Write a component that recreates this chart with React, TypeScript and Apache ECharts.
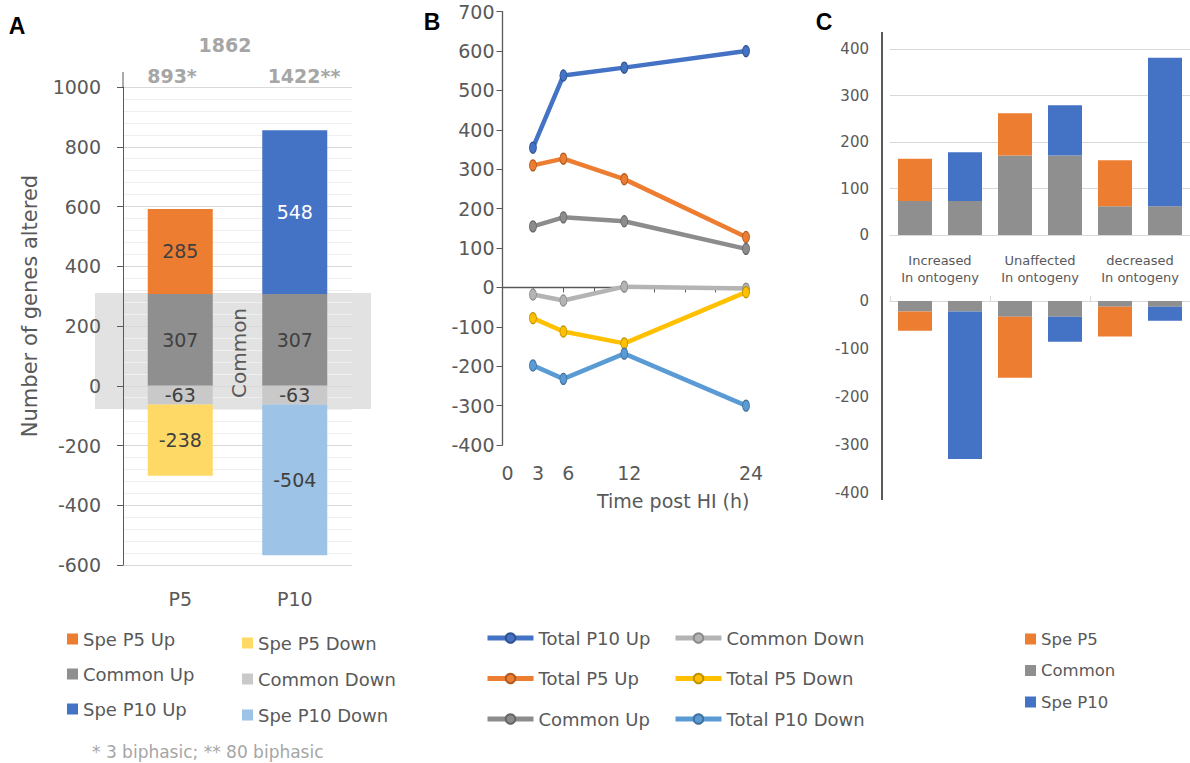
import React, { useEffect, useRef } from "react";
import * as echarts from "echarts";

const FONT = "DejaVu Sans";
const GRAY = "#595959";

// ---------- Panel A ----------
const aCategories = ["P5", "P10"];
const aCommonUp = [307, 307];
const aCommonDown = [-63, -63];
const aSpeP5Up = [285, null];
const aSpeP5Down = [-238, null];
const aSpeP10Up = [null, 548];
const aSpeP10Down = [null, -504];
const aBiphasic = [3, 80];

// ---------- Panel B ----------
const bHours = [3, 6, 12, 24];
const bXLabels = [0, 3, 6, 12, 24];
const bTotalP10Up = [355, 538, 558, 600];
const bTotalP5Up = [310, 327, 275, 128];
const bCommonUp = [155, 178, 168, 98];
const bCommonDown = [-18, -33, 2, -3];
const bTotalP5Down = [-78, -112, -142, -12];
const bTotalP10Down = [-198, -232, -168, -300];

// ---------- Panel C ----------
const cGroups = ["Increased\nIn ontogeny", "Unaffected\nIn ontogeny", "decreased\nIn ontogeny"];
const cBars = ["Inc P5", "Inc P10", "Unaff P5", "Unaff P10", "Dec P5", "Dec P10"];
const cUpCommon = [73, 73, 171, 171, 62, 62];
const cUpSpeP5 = [91, null, 91, null, 99, null];
const cUpSpeP10 = [null, 105, null, 108, null, 319];
const cDownCommon = [-22, -22, -33, -33, -12, -12];
const cDownSpeP5 = [-40, null, -127, null, -62, null];
const cDownSpeP10 = [null, -307, null, -52, null, -29];

const dash = (arr: (number | null)[]) => arr.map((v) => (v == null ? "-" : v));
const abs0 = (v: number | null) => (v == null ? 0 : Math.abs(v));
const totalA = (i: number) =>
  abs0(aCommonUp[i]) + abs0(aCommonDown[i]) + abs0(aSpeP5Up[i]) + abs0(aSpeP5Down[i]) + abs0(aSpeP10Up[i]) + abs0(aSpeP10Down[i]);
const totP5 = totalA(0);
const totP10 = totalA(1);
const totUnion = totP5 + totP10 - abs0(aCommonUp[0]) - abs0(aCommonDown[0]) - aBiphasic[0] - aBiphasic[1];

const ORANGE = "#ED7D31";
const BLUE = "#4472C4";
const MGRAY = "#8f8f8f";

const legendText = { color: GRAY, fontSize: 18, lineHeight: 22, fontFamily: FONT };
const plain = (v: number) => String(v);

const optA: any = {
  animation: false,
  textStyle: { fontFamily: FONT },
  grid: { left: 123, top: 87, width: 229, height: 478 },
  xAxis: {
    type: "category",
    data: aCategories,
    axisLine: { show: false },
    axisTick: { show: false },
    axisLabel: { color: GRAY, fontSize: 19, margin: 24 },
  },
  yAxis: {
    type: "value",
    min: -600,
    max: 1000,
    interval: 200,
    z: 1,
    axisLine: { show: true, lineStyle: { color: GRAY, width: 1 } },
    axisTick: { show: true, length: 6, lineStyle: { color: GRAY } },
    axisLabel: { color: GRAY, fontSize: 19, margin: 22, formatter: plain },
    splitLine: { lineStyle: { color: "#d9d9d9" } },
    minorTick: { show: false, splitNumber: 5 },
    minorSplitLine: { show: true, lineStyle: { color: "#efefef" } },
  },
  legend: [
    {
      left: 67, top: 628, orient: "vertical", padding: 0, itemWidth: 11, itemHeight: 11, itemGap: 13, icon: "rect",
      data: ["Spe P5 Up", "Common Up", "Spe P10 Up"], textStyle: legendText,
    },
    {
      left: 242, top: 632, orient: "vertical", padding: 0, itemWidth: 11, itemHeight: 11, itemGap: 14, icon: "rect",
      data: ["Spe P5 Down", "Common Down", "Spe P10 Down"], textStyle: legendText,
    },
  ],
  series: [
    { name: "Common Up", data: dash(aCommonUp), color: MGRAY, lc: "#404040" },
    { name: "Common Down", data: dash(aCommonDown), color: "#c9c9c9", lc: "#404040" },
    { name: "Spe P5 Up", data: dash(aSpeP5Up), color: ORANGE, lc: "#404040" },
    { name: "Spe P5 Down", data: dash(aSpeP5Down), color: "#FFD966", lc: "#404040" },
    { name: "Spe P10 Up", data: dash(aSpeP10Up), color: BLUE, lc: "#ffffff" },
    { name: "Spe P10 Down", data: dash(aSpeP10Down), color: "#9DC3E6", lc: "#404040" },
  ].map((s) => ({
    type: "bar",
    name: s.name,
    data: s.data,
    stack: "total",
    barWidth: 65,
    itemStyle: { color: s.color },
    label: { show: true, position: "inside", color: s.lc, fontSize: 19, fontFamily: FONT },
  })),
  graphic: [
    { type: "rect", z: -1, shape: { x: 95, y: 293, width: 276, height: 116 }, style: { fill: "#e2e2e2" } },
    { type: "line", shape: { x1: 123, y1: 72, x2: 123, y2: 87 }, style: { stroke: GRAY, lineWidth: 1 } },
    {
      type: "text", x: 239, y: 353, rotation: Math.PI / 2, z: 10,
      style: { text: "Common", fontSize: 20, fontFamily: FONT, fill: GRAY, align: "center", verticalAlign: "middle" },
    },
    {
      type: "text", x: 30, y: 306, rotation: Math.PI / 2,
      style: { text: "Number of genes altered", fontSize: 21, fontFamily: FONT, fill: GRAY, align: "center", verticalAlign: "middle" },
    },
    {
      type: "text", x: 225, y: 45,
      style: { text: String(totUnion), fontSize: 19, fontWeight: "bold", fontFamily: FONT, fill: "#a6a6a6", align: "center", verticalAlign: "middle" },
    },
    {
      type: "text", x: 172, y: 76,
      style: { text: totP5 + "*", fontSize: 19, fontWeight: "bold", fontFamily: FONT, fill: "#a6a6a6", align: "center", verticalAlign: "middle" },
    },
    {
      type: "text", x: 304, y: 76,
      style: { text: totP10 + "**", fontSize: 19, fontWeight: "bold", fontFamily: FONT, fill: "#a6a6a6", align: "center", verticalAlign: "middle" },
    },
    {
      type: "text", x: 92, y: 752,
      style: {
        text: `* ${aBiphasic[0]} biphasic; ** ${aBiphasic[1]} biphasic`,
        fontSize: 17, fontFamily: FONT, fill: "#a6a6a6", align: "left", verticalAlign: "middle",
      },
    },
    {
      type: "text", x: 17, y: 26,
      style: { text: "A", fontSize: 23, fontWeight: "bold", fontFamily: "Liberation Sans", fill: "#000", align: "center", verticalAlign: "middle" },
    },
  ],
};

const bSeriesDefs = [
  { name: "Total P10 Up", data: bTotalP10Up, color: "#4472C4", border: "#2f528f" },
  { name: "Total P5 Up", data: bTotalP5Up, color: "#ED7D31", border: "#ae5a21" },
  { name: "Common Up", data: bCommonUp, color: "#8c8c8c", border: "#666666" },
  { name: "Common Down", data: bCommonDown, color: "#b4b4b4", border: "#8a8a8a" },
  { name: "Total P5 Down", data: bTotalP5Down, color: "#FFC000", border: "#bf9000" },
  { name: "Total P10 Down", data: bTotalP10Down, color: "#5B9BD5", border: "#41719c" },
];

const bLegendBase = {
  top: 627, orient: "vertical", padding: 0, itemWidth: 46, itemHeight: 12, itemGap: 18.5,
  lineStyle: { width: 5 },
  textStyle: legendText,
};

const optB: any = {
  animation: false,
  textStyle: { fontFamily: FONT },
  grid: { left: 502.5, top: 11.7, width: 243.5, height: 433.3 },
  xAxis: [
    {
      type: "value", min: 0, max: 24, interval: 3, position: "bottom",
      axisLine: { show: false, onZero: false },
      axisTick: { show: false },
      splitLine: { show: false },
      axisLabel: {
        color: GRAY, fontSize: 19, margin: 18, padding: [0, 0, 0, 10],
        formatter: (v: number) => (bXLabels.indexOf(v) >= 0 ? String(v) : ""),
      },
      name: "Time post HI (h)",
      nameLocation: "middle",
      nameGap: 46,
      nameTextStyle: { color: GRAY, fontSize: 19, padding: [0, 0, 0, 98] },
    },
    {
      type: "value", min: 0, max: 24, interval: 3, position: "top",
      axisLine: { show: true, onZero: true, lineStyle: { color: GRAY, width: 1.3 } },
      axisTick: { show: true, inside: true, length: 5, lineStyle: { color: GRAY } },
      axisLabel: { show: false },
      splitLine: { show: false },
    },
  ],
  yAxis: {
    type: "value", min: -400, max: 700, interval: 100,
    axisLine: { show: true, onZero: false, lineStyle: { color: GRAY, width: 1.3 } },
    axisTick: { show: true, length: 6, lineStyle: { color: GRAY } },
    axisLabel: { color: GRAY, fontSize: 19, margin: 8 },
    splitLine: { show: false },
  },
  legend: [
    { ...bLegendBase, left: 485, data: ["Total P10 Up", "Total P5 Up", "Common Up"] },
    { ...bLegendBase, left: 673, data: ["Common Down", "Total P5 Down", "Total P10 Down"] },
  ],
  series: bSeriesDefs.map((s) => ({
    type: "line",
    name: s.name,
    xAxisIndex: 0,
    data: bHours.map((h, i) => [h, s.data[i]]),
    symbol: "circle",
    symbolSize: [7, 11],
    lineStyle: { width: 4.5, color: s.color },
    itemStyle: { color: s.color, borderColor: s.border, borderWidth: 1 },
  })),
  graphic: [
    {
      type: "text", x: 432, y: 22,
      style: { text: "B", fontSize: 23, fontWeight: "bold", fontFamily: "Liberation Sans", fill: "#000", align: "center", verticalAlign: "middle" },
    },
  ],
};

const cBar = (name: string, data: (number | null)[], color: string, xi: number, yi: number, stack: string) => ({
  type: "bar",
  name,
  data: dash(data),
  xAxisIndex: xi,
  yAxisIndex: yi,
  stack,
  barWidth: 34,
  itemStyle: { color },
});

const optC: any = {
  animation: false,
  textStyle: { fontFamily: FONT },
  grid: [
    { left: 890, top: 49, width: 303, height: 186 },
    { left: 890, top: 301, width: 308, height: 192 },
  ],
  xAxis: [
    {
      gridIndex: 0, type: "category", data: cBars, position: "bottom",
      axisLine: { show: true, lineStyle: { color: "#d9d9d9" } },
      axisTick: { show: false },
      axisLabel: { show: false },
    },
    {
      gridIndex: 0, type: "category", data: cGroups, position: "bottom",
      axisLine: { show: false },
      axisTick: { show: false },
      axisLabel: { color: GRAY, fontSize: 13, lineHeight: 17, margin: 17, interval: 0, hideOverlap: false },
    },
    {
      gridIndex: 1, type: "category", data: cBars, position: "top",
      axisLine: { show: true, lineStyle: { color: "#d9d9d9" } },
      axisTick: { show: true, length: 5, lineStyle: { color: "#d9d9d9" } },
      axisLabel: { show: false },
    },
  ],
  yAxis: [
    {
      gridIndex: 0, type: "value", min: 0, max: 400, interval: 100,
      axisLine: { show: false }, axisTick: { show: false },
      axisLabel: { color: GRAY, fontSize: 15, margin: 21 },
      splitLine: { lineStyle: { color: "#d9d9d9" } },
    },
    {
      gridIndex: 1, type: "value", min: -400, max: 0, interval: 100,
      axisLine: { show: false }, axisTick: { show: false },
      axisLabel: { color: GRAY, fontSize: 15, margin: 21 },
      splitLine: { show: false },
    },
  ],
  legend: {
    left: 1025, top: 629, orient: "vertical", padding: 0, itemWidth: 11, itemHeight: 11, itemGap: 11.5, icon: "rect",
    data: ["Spe P5", "Common", "Spe P10"],
    textStyle: { color: GRAY, fontSize: 16.5, lineHeight: 20, fontFamily: FONT },
  },
  series: [
    cBar("Common", cUpCommon, MGRAY, 0, 0, "up"),
    cBar("Spe P5", cUpSpeP5, ORANGE, 0, 0, "up"),
    cBar("Spe P10", cUpSpeP10, BLUE, 0, 0, "up"),
    cBar("Common", cDownCommon, MGRAY, 2, 1, "down"),
    cBar("Spe P5", cDownSpeP5, ORANGE, 2, 1, "down"),
    cBar("Spe P10", cDownSpeP10, BLUE, 2, 1, "down"),
  ],
  graphic: [
    { type: "line", shape: { x1: 882, y1: 32, x2: 882, y2: 500 }, style: { stroke: GRAY, lineWidth: 2 } },
    {
      type: "text", x: 824, y: 22,
      style: { text: "C", fontSize: 23, fontWeight: "bold", fontFamily: "Liberation Sans", fill: "#000", align: "center", verticalAlign: "middle" },
    },
  ],
};

function Chart({ option }: { option: any }) {
  const ref = useRef<HTMLDivElement>(null);
  useEffect(() => {
    const chart = echarts.init(ref.current as HTMLDivElement, undefined, { renderer: "svg" });
    chart.setOption(option);
    return () => chart.dispose();
  }, [option]);
  return <div ref={ref} style={{ position: "absolute", left: 0, top: 0, width: 1190, height: 763 }} />;
}

export default function App() {
  return (
    <div style={{ position: "fixed", left: 0, top: 0, width: 1190, height: 763, background: "#ffffff", overflow: "hidden" }}>
      <Chart option={optA} />
      <Chart option={optB} />
      <Chart option={optC} />
    </div>
  );
}
